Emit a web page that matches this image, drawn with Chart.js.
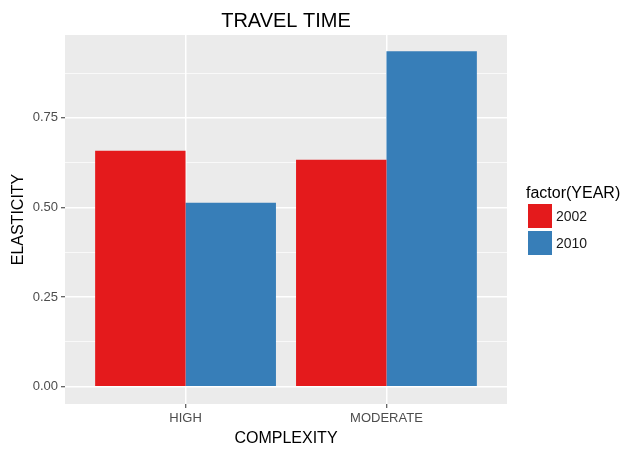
<!DOCTYPE html>
<html>
<head>
<meta charset="utf-8">
<script src="https://cdn.jsdelivr.net/npm/chart.js@4/dist/chart.umd.min.js"></script>
<style>
  body { margin: 0; background: #fff; }
  canvas { display: block; }
</style>
</head>
<body>
<canvas id="travelChart" width="621" height="449"></canvas>
<script>
const categories = ['HIGH', 'MODERATE'];
const years = ['2002', '2010'];
const elasticity2002 = [0.658, 0.633];
const elasticity2010 = [0.513, 0.936];
const yMajorTicks = [0, 0.25, 0.5, 0.75];
const yMinorTicks = [0.125, 0.375, 0.625, 0.875];
const yearColors = ['#E41A1C', '#377EB8'];

const FONT = "'Liberation Sans', Arial, sans-serif";

function toPoints(values) {
  return values.map(function(v, i) { return { x: i + 1, y: v }; });
}

function isMajor(value) {
  return yMajorTicks.some(function(t) { return Math.abs(t - value) < 1e-9; });
}

// grey panel behind the grid, like ggplot's theme_grey
const panelBackground = {
  id: 'panelBackground',
  beforeDraw: function(chart) {
    const a = chart.chartArea;
    const c = chart.ctx;
    c.save();
    c.fillStyle = '#EBEBEB';
    c.fillRect(a.left, a.top, a.right - a.left, a.bottom - a.top);
    c.restore();
  }
};

// title centred over the panel, as ggplot does
const panelTitle = {
  id: 'panelTitle',
  afterDraw: function(chart) {
    const a = chart.chartArea;
    const c = chart.ctx;
    c.save();
    c.fillStyle = '#000';
    c.font = '20px ' + FONT;
    c.textAlign = 'center';
    c.textBaseline = 'alphabetic';
    c.fillText('TRAVEL TIME', (a.left + a.right) / 2, 27);
    c.restore();
  }
};

// legend drawn by hand so the title can run off the right edge
const yearLegend = {
  id: 'yearLegend',
  afterDraw: function(chart) {
    const a = chart.chartArea;
    const c = chart.ctx;
    const x = a.right + 21;
    c.save();
    c.fillStyle = '#000';
    c.font = '16px ' + FONT;
    c.textBaseline = 'alphabetic';
    c.textAlign = 'left';
    c.fillText('factor(YEAR)', a.right + 19, 198);
    c.font = '14px ' + FONT;
    c.textBaseline = 'middle';
    chart.data.datasets.forEach(function(ds, i) {
      const top = 204 + i * 27;
      c.fillStyle = ds.backgroundColor;
      c.fillRect(x, top, 24, 24);
      c.fillStyle = '#1a1a1a';
      c.fillText(ds.label, x + 28, top + 13);
    });
    c.restore();
  }
};

new Chart(document.getElementById('travelChart'), {
  type: 'bar',
  data: {
    datasets: [
      {
        label: years[0],
        data: toPoints(elasticity2002),
        backgroundColor: yearColors[0],
        borderWidth: 0,
        barPercentage: 1,
        categoryPercentage: 0.9
      },
      {
        label: years[1],
        data: toPoints(elasticity2010),
        backgroundColor: yearColors[1],
        borderWidth: 0,
        barPercentage: 1,
        categoryPercentage: 0.9
      }
    ]
  },
  options: {
    responsive: false,
    animation: false,
    layout: {
      padding: { left: 0, right: 114, top: 35, bottom: 0 }
    },
    plugins: {
      legend: { display: false },
      tooltip: { enabled: false },
      title: { display: false }
    },
    scales: {
      x: {
        type: 'linear',
        min: 0.4,
        max: 2.6,
        offset: false,
        afterBuildTicks: function(scale) {
          scale.ticks = categories.map(function(c, i) { return { value: i + 1 }; });
        },
        afterFit: function(scale) { scale.height = 45; },
        border: { display: false },
        grid: {
          offset: false,
          color: '#ffffff',
          lineWidth: 1.5,
          tickLength: 4,
          tickColor: '#333333',
          tickWidth: 1
        },
        ticks: {
          autoSkip: false,
          maxRotation: 0,
          padding: 3,
          color: '#4D4D4D',
          font: { size: 13, family: FONT },
          callback: function(value) { return categories[value - 1] || ''; }
        },
        title: {
          display: true,
          text: 'COMPLEXITY',
          color: '#000',
          font: { size: 16, family: FONT },
          padding: { top: 0, bottom: 1 }
        }
      },
      y: {
        min: -0.048,
        max: 0.981,
        afterBuildTicks: function(scale) {
          scale.ticks = yMajorTicks.concat(yMinorTicks)
            .sort(function(a, b) { return a - b; })
            .map(function(v) { return { value: v }; });
        },
        afterFit: function(scale) { scale.width = 65; },
        border: { display: false },
        grid: {
          color: '#ffffff',
          lineWidth: function(ctx) {
            return ctx.tick && isMajor(ctx.tick.value) ? 1.5 : 0.7;
          },
          tickLength: 4,
          tickColor: function(ctx) {
            return ctx.tick && isMajor(ctx.tick.value) ? '#333333' : 'rgba(0,0,0,0)';
          },
          tickWidth: 1
        },
        ticks: {
          autoSkip: false,
          padding: 3,
          color: '#4D4D4D',
          font: { size: 13, family: FONT },
          callback: function(value) {
            return isMajor(value) ? value.toFixed(2) : '';
          }
        },
        title: {
          display: true,
          text: 'ELASTICITY',
          color: '#000',
          font: { size: 16, family: FONT },
          padding: { top: 9, bottom: 0 }
        }
      }
    }
  },
  plugins: [panelBackground, panelTitle, yearLegend]
});
</script>
</body>
</html>
